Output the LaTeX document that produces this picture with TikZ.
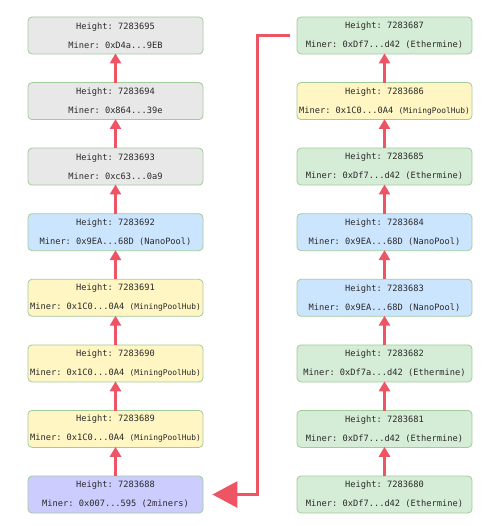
\documentclass[tikz,border=0pt]{standalone}
\usepackage{fontspec}
\setmonofont{DejaVu Sans Mono}
\usetikzlibrary{arrows.meta,calc}
\definecolor{bgray}{HTML}{E8E8E8}
\definecolor{bblue}{HTML}{CCE5FF}
\definecolor{byellow}{HTML}{FFF6C4}
\definecolor{bgreen}{HTML}{D5ECD6}
\definecolor{bpurple}{HTML}{CCCCFF}
\definecolor{bborder}{HTML}{A2CB9A}
\definecolor{arrowred}{HTML}{EE5564}
\definecolor{txt}{HTML}{2A2A2A}
\newcommand{\mph}{{\fontsize{7.9}{19}\selectfont(MiningPoolHub)}}
\begin{document}
\begin{tikzpicture}[x=1pt,y=-1pt,
  blk/.style={draw=bborder, line width=0.8pt, rounded corners=4pt, minimum width=175pt, minimum height=37pt, inner sep=0pt, align=center, text=txt, font=\ttfamily\fontsize{8.7}{19}\selectfont},
  gblk/.style={blk, fill=bgray},
  ublk/.style={blk, fill=bblue},
  yblk/.style={blk, fill=byellow},
  nblk/.style={blk, fill=bgreen},
  pblk/.style={blk, fill=bpurple},
  uparrow/.style={draw=arrowred, line width=3pt, -{Triangle[length=10pt,width=11pt]}},
  bigarrow/.style={draw=arrowred, line width=3pt, -{Triangle[length=25pt,width=26pt]}}]
\useasboundingbox (0,0) rectangle (500,526);
% left column
\node[gblk] (l7) at (115.5,35.5) {Height: 7283695\\Miner: 0xD4a...9EB};
\node[gblk] (l6) at (115.5,101.1) {Height: 7283694\\Miner: 0x864...39e};
\node[gblk] (l5) at (115.5,166.6) {Height: 7283693\\Miner: 0xc63...0a9};
\node[ublk] (l4) at (115.5,232.2) {Height: 7283692\\Miner: 0x9EA...68D (NanoPool)};
\node[yblk] (l3) at (115.5,297.8) {Height: 7283691\\Miner: 0x1C0...0A4 \mph};
\node[yblk] (l2) at (115.5,363.4) {Height: 7283690\\Miner: 0x1C0...0A4 \mph};
\node[yblk] (l1) at (115.5,428.9) {Height: 7283689\\Miner: 0x1C0...0A4 \mph};
\node[pblk] (l0) at (115.5,494.5) {Height: 7283688\\Miner: 0x007...595 (2miners)};
% right column
\node[nblk] (r7) at (384.5,35.5) {Height: 7283687\\Miner: 0xDf7...d42 (Ethermine)};
\node[yblk] (r6) at (384.5,101.1) {Height: 7283686\\Miner: 0x1C0...0A4 \mph};
\node[nblk] (r5) at (384.5,166.6) {Height: 7283685\\Miner: 0xDf7...d42 (Ethermine)};
\node[ublk] (r4) at (384.5,232.2) {Height: 7283684\\Miner: 0x9EA...68D (NanoPool)};
\node[ublk] (r3) at (384.5,297.8) {Height: 7283683\\Miner: 0x9EA...68D (NanoPool)};
\node[nblk] (r2) at (384.5,363.4) {Height: 7283682\\Miner: 0xDf7a...d42 (Ethermine)};
\node[nblk] (r1) at (384.5,428.9) {Height: 7283681\\Miner: 0xDf7...d42 (Ethermine)};
\node[nblk] (r0) at (384.5,494.5) {Height: 7283680\\Miner: 0xDf7...d42 (Ethermine)};
% vertical arrows
\foreach \a/\b in {0/1,1/2,2/3,3/4,4/5,5/6,6/7}{
  \draw[uparrow] ([yshift=-0.5pt]l\a.north) -- ([yshift=1pt]l\b.south);
  \draw[uparrow] ([yshift=-0.5pt]r\a.north) -- ([yshift=1pt]r\b.south);
}
% connector
\coordinate (c2) at (257,494.5);
\draw[bigarrow] ([xshift=-7pt]r7.west) -| (c2) -- ([xshift=9pt]l0.east);
\end{tikzpicture}
\end{document}
